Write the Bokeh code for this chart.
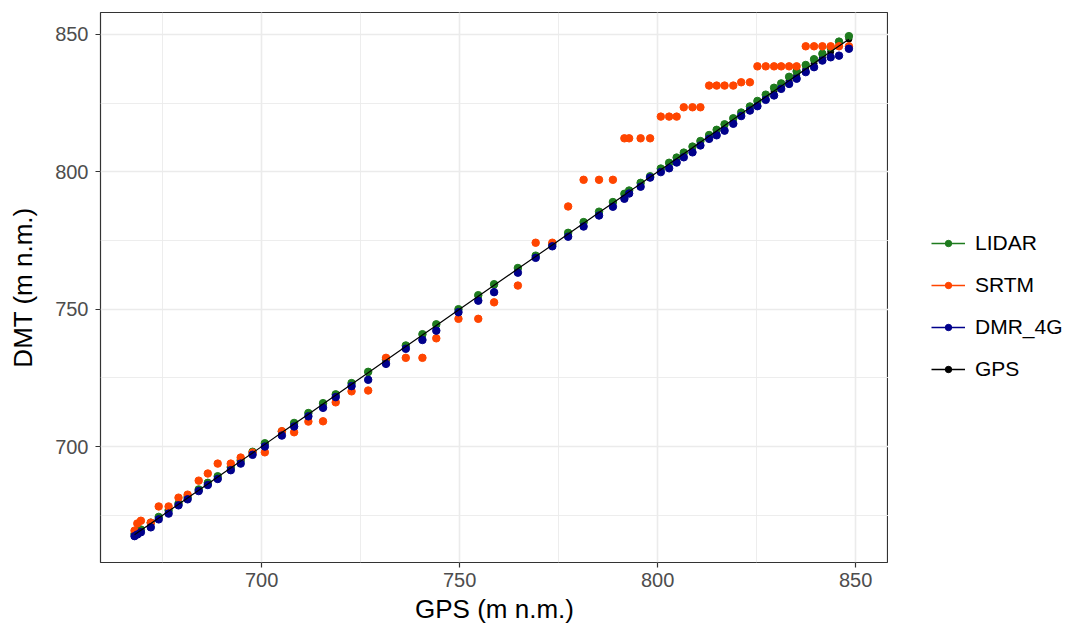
from bokeh.plotting import figure
from bokeh.layouts import row
from bokeh.models import (ColumnDataSource, Legend, LegendItem, SingleIntervalTicker, Range1d)
from bokeh.embed import file_html
from bokeh.resources import INLINE

# ---- data ----
gps = [667.9, 668.6, 669.5, 672.0, 674.0, 676.5, 679.0, 681.3, 684.1, 686.4,
       688.9, 692.2, 694.7, 697.7, 700.8, 705.1, 708.2, 711.8, 715.5, 718.7,
       722.7, 726.9, 731.4, 736.4, 740.6, 744.1, 749.7, 754.7, 758.7, 764.7,
       769.2, 773.4, 777.4, 781.3, 785.2, 788.7, 791.6, 792.8, 795.7, 798.1,
       800.8, 802.9, 804.8, 806.6, 808.8, 810.8, 813.0, 814.9, 816.9, 819.1,
       821.1, 823.3, 825.2, 827.3, 829.4, 831.2, 833.2, 835.1, 837.4, 839.5,
       841.6, 843.7, 845.8, 848.3]

lidar = [668.2, 668.9, 669.8, 672.3, 674.4, 676.8, 679.3, 681.6, 684.4, 686.8,
         689.2, 692.5, 695.0, 698.1, 701.2, 705.5, 708.6, 712.2, 715.8, 719.0,
         723.1, 727.2, 731.8, 736.8, 740.9, 744.5, 750.0, 755.1, 759.1, 765.0,
         769.5, 773.7, 777.8, 781.7, 785.5, 789.0, 792.0, 793.2, 796.0, 798.4,
         801.2, 803.3, 805.2, 807.0, 809.2, 811.2, 813.4, 815.3, 817.3, 819.5,
         821.6, 823.8, 825.8, 828.1, 830.6, 832.2, 834.6, 836.6, 838.9, 841.0,
         843.0, 845.2, 847.4, 849.4]

srtm = [669.4, 672.0, 673.0, 672.3, 678.2, 678.2, 681.4, 682.5, 687.6, 690.2,
        693.8, 693.8, 696.0, 697.8, 697.9, 705.6, 705.2, 709.1, 709.2, 716.1,
        720.1, 720.4, 732.3, 732.3, 732.3, 739.4, 746.5, 746.5, 752.5, 758.6,
        774.2, 774.2, 787.4, 797.1, 797.1, 797.1, 812.2, 812.2, 812.2, 812.2,
        820.1, 820.1, 820.1, 823.5, 823.5, 823.5, 831.4, 831.4, 831.4, 831.4,
        832.6, 832.6, 838.4, 838.4, 838.4, 838.4, 838.4, 838.4, 845.7, 845.7,
        845.7, 845.7, 845.7, 845.7]

dmr_4g = [667.4, 668.0, 668.8, 670.6, 673.5, 675.6, 678.6, 680.8, 683.8, 686.0,
          688.2, 691.4, 693.8, 697.0, 700.0, 704.0, 707.3, 711.0, 714.1, 718.0,
          722.0, 724.3, 730.1, 735.6, 738.8, 742.2, 748.9, 753.1, 756.2, 763.3,
          768.7, 772.9, 776.4, 780.1, 784.1, 787.3, 790.2, 792.1, 794.6, 797.9,
          799.9, 801.3, 803.4, 805.3, 807.1, 809.6, 812.0, 813.3, 815.0, 817.5,
          820.3, 822.3, 823.9, 826.2, 827.8, 830.2, 832.0, 833.9, 836.3, 838.1,
          840.5, 841.7, 842.3, 844.8]

series_names = ["LIDAR", "SRTM", "DMR_4G", "GPS"]
series_colors = ["#1E7B1E", "#FF4500", "#00008B", "#000000"]

FONT = "Liberation Sans"

src = ColumnDataSource(dict(gps=gps, lidar=lidar, srtm=srtm, dmr=dmr_4g))

# ---------------- main plot ----------------
p = figure(frame_width=788, frame_height=550, output_backend="svg", toolbar_location=None,
           x_range=Range1d(659.3, 858.3), y_range=Range1d(657.8, 858.0),
           min_border_left=100, min_border_right=0, min_border_top=12,
           min_border_bottom=69)

p.background_fill_color = "white"
p.border_fill_color = "white"
p.outline_line_color = "#333333"
p.outline_line_width = 1.2

for ax in (p.xaxis[0], p.yaxis[0]):
    ax.ticker = SingleIntervalTicker(interval=50, num_minor_ticks=2)
    ax.axis_line_color = None
    ax.major_tick_line_color = "#333333"
    ax.major_tick_line_width = 1.2
    ax.major_tick_out = 5
    ax.major_tick_in = 0
    ax.minor_tick_line_color = None
    ax.major_label_text_font = FONT
    ax.major_label_text_font_size = "20px"
    ax.major_label_text_color = "#4D4D4D"
    ax.axis_label_text_font = FONT
    ax.axis_label_text_font_size = "26px"
    ax.axis_label_text_font_style = "normal"
    ax.axis_label_text_color = "#000000"

p.xaxis.axis_label = "GPS (m n.m.)"
p.yaxis.axis_label = "DMT (m n.m.)"
p.xaxis.major_label_standoff = 5
p.yaxis.major_label_standoff = 7
p.xaxis.axis_label_standoff = 4
p.yaxis.axis_label_standoff = 14

for g in (p.xgrid[0], p.ygrid[0]):
    g.ticker = SingleIntervalTicker(interval=50, num_minor_ticks=2)
    g.grid_line_color = "#EBEBEB"
    g.grid_line_width = 1.6
    g.minor_grid_line_color = "#EBEBEB"
    g.minor_grid_line_width = 0.9

# GPS points first (underneath)
p.scatter("gps", "gps", source=src, size=6, color=series_colors[3])
p.scatter("gps", "lidar", source=src, size=7.5, color=series_colors[0])
p.scatter("gps", "srtm", source=src, size=7.5, color=series_colors[1])
p.scatter("gps", "dmr", source=src, size=7.5, color=series_colors[2])
p.line("gps", "gps", source=src, line_width=1.2, color=series_colors[3])

# ---------------- legend panel ----------------
lg = figure(width=178, height=631, output_backend="svg", toolbar_location=None,
            x_axis_type=None, y_axis_type=None,
            x_range=Range1d(0, 1), y_range=Range1d(0, 1),
            min_border_left=0, min_border_right=0, min_border_top=0,
            min_border_bottom=0)
lg.outline_line_color = None
lg.background_fill_color = "white"
lg.border_fill_color = "white"
lg.xgrid.visible = False
lg.ygrid.visible = False

key_src = ColumnDataSource(dict(x=[float("nan")], y=[float("nan")]))
items = []
for name, col in zip(series_names, series_colors):
    rl = lg.line("x", "y", source=key_src, line_width=1.5, color=col)
    rp = lg.scatter("x", "y", source=key_src, size=6, color=col)
    items.append(LegendItem(label=name, renderers=[rl, rp]))

legend = Legend(items=items, location=(43, 181), padding=0, margin=0, ncols=1,
                border_line_color=None, background_fill_alpha=0,
                glyph_width=34, glyph_height=16, label_height=20,
                label_standoff=10, spacing=18,
                label_text_font=FONT, label_text_font_size="21px",
                label_text_color="#000000")
lg.add_layout(legend, "center")

layout = row(p, lg, spacing=0)
open("out.html", "w").write(file_html(layout, INLINE))
